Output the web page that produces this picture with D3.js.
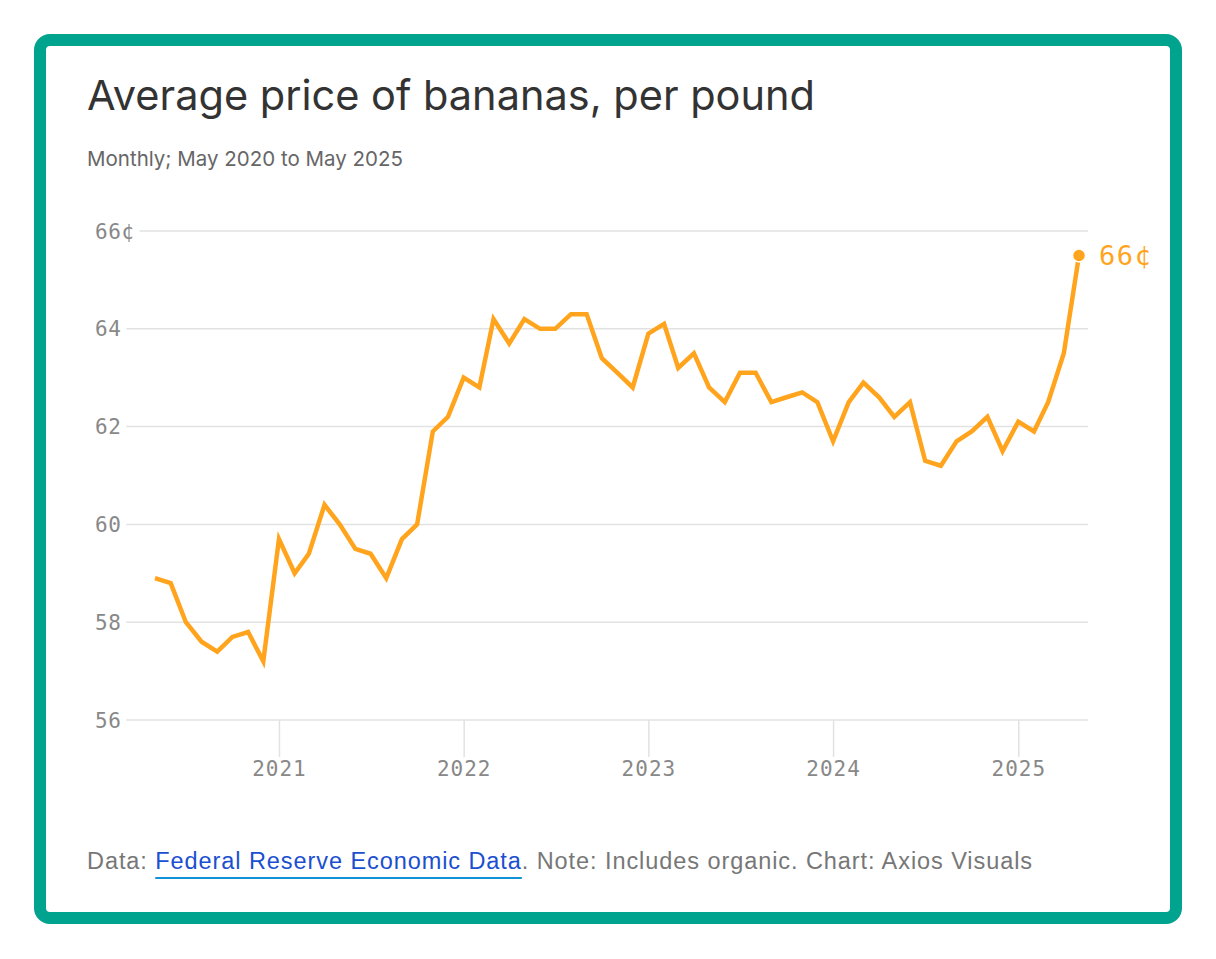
<!DOCTYPE html>
<html>
<head>
<meta charset="utf-8">
<script src="https://cdn.jsdelivr.net/npm/d3@7"></script>
<style>
  body { margin: 0; background: #fff; }
  svg { display: block; }
</style>
</head>
<body>
<svg id="chart" width="1216" height="959"></svg>
<script>
// Banana prices, cents per pound, monthly May 2020 - May 2025
var startMonth = "2020-05";
var prices = [
  58.9, 58.8, 58.0, 57.6, 57.4, 57.7, 57.8, 57.2,
  59.7, 59.0, 59.4, 60.4, 60.0, 59.5, 59.4, 58.9, 59.7, 60.0, 61.9, 62.2,
  63.0, 62.8, 64.2, 63.7, 64.2, 64.0, 64.0, 64.3, 64.3, 63.4, 63.1, 62.8,
  63.9, 64.1, 63.2, 63.5, 62.8, 62.5, 63.1, 63.1, 62.5, 62.6, 62.7, 62.5,
  61.7, 62.5, 62.9, 62.6, 62.2, 62.5, 61.3, 61.2, 61.7, 61.9, 62.2, 61.5,
  62.1, 61.9, 62.5, 63.5, 65.5
];
var yTicks = [56, 58, 60, 62, 64, 66];
var xTickYears = [2021, 2022, 2023, 2024, 2025];

var parseMonth = d3.timeParse("%Y-%m");
var start = parseMonth(startMonth);
var data = prices.map(function(v, i) {
  return { date: d3.timeMonth.offset(start, i), value: v };
});

var svg = d3.select("#chart");
var mono = "'DejaVu Sans Mono', monospace";
var orange = "#ffa41c";

// frame
svg.append("rect")
    .attr("x", 40).attr("y", 40)
    .attr("width", 1136).attr("height", 878)
    .attr("rx", 10)
    .attr("fill", "#fff")
    .attr("stroke", "#00a38d")
    .attr("stroke-width", 12);

// title + subtitle
svg.append("text")
    .attr("x", 87).attr("y", 110)
    .style("font-family", "Inter, 'Noto Sans', sans-serif")
    .style("font-size", "41.5px")
    .style("fill", "#333")
    .text("Average price of bananas, per pound");

svg.append("text")
    .attr("x", 87).attr("y", 166)
    .style("font-family", "Inter, 'Noto Sans', sans-serif")
    .style("font-size", "20.5px")
    .style("fill", "#666")
    .text("Monthly; May 2020 to May 2025");

var x = d3.scaleTime()
    .domain(d3.extent(data, function(d) { return d.date; }))
    .range([155, 1079]);

var y = d3.scaleLinear()
    .domain([56, 66])
    .range([720, 231]);

// y grid + labels
var yg = svg.append("g").attr("class", "y-grid");
yTicks.forEach(function(t, i) {
  var label = yg.append("text")
      .attr("x", 95).attr("y", y(t))
      .attr("dy", "0.36em")
      .style("font-family", mono)
      .style("font-size", "21px")
      .style("letter-spacing", "0.5px")
      .style("fill", "#888")
      .text(i == yTicks.length - 1 ? t + "¢" : t);
  var w = label.node().getComputedTextLength();
  yg.append("line")
      .attr("x1", 95 + w + 5).attr("x2", 1088)
      .attr("y1", y(t)).attr("y2", y(t))
      .attr("stroke", "#e2e2e2")
      .attr("stroke-width", 1.5);
});

// x axis ticks
var xAxis = d3.axisBottom(x)
    .tickValues(xTickYears.map(function(yr) { return new Date(yr, 0, 1); }))
    .tickFormat(d3.timeFormat("%Y"))
    .tickSize(37)
    .tickPadding(4);

var xg = svg.append("g")
    .attr("transform", "translate(0," + y(56) + ")")
    .call(xAxis);
xg.select(".domain").remove();
xg.selectAll(".tick line").attr("stroke", "#e2e2e2").attr("stroke-width", 1.5);
xg.selectAll(".tick text")
    .style("font-family", mono)
    .style("font-size", "21px")
    .style("letter-spacing", "1px")
    .style("fill", "#888");

// the line
var line = d3.line()
    .x(function(d) { return x(d.date); })
    .y(function(d) { return y(d.value); });

svg.append("path")
    .datum(data)
    .attr("d", line)
    .attr("fill", "none")
    .attr("stroke", orange)
    .attr("stroke-width", 4.5)
    .attr("stroke-linejoin", "miter")
    .attr("stroke-linecap", "butt");

// end point + label
var last = data[data.length - 1];
svg.append("circle")
    .attr("cx", x(last.date)).attr("cy", y(last.value))
    .attr("r", 6.5)
    .attr("fill", orange)
    .attr("stroke", "#fff")
    .attr("stroke-width", 1.5);

svg.append("text")
    .attr("x", x(last.date) + 20).attr("y", y(last.value))
    .attr("dy", "0.36em")
    .style("font-family", mono)
    .style("font-size", "27px")
    .style("letter-spacing", "1.5px")
    .style("fill", orange)
    .text(Math.round(last.value) + "¢");

// footer
var foot = svg.append("text")
    .attr("x", 87).attr("y", 869)
    .style("font-family", "'Liberation Sans', Arial, sans-serif")
    .style("font-size", "23.5px")
    .style("fill", "#777");
foot.append("tspan").text("Data: ");
foot.append("tspan").style("fill", "#1a4fd0").text("Federal Reserve Economic Data");
foot.append("tspan").text(". Note: Includes organic. Chart: Axios Visuals");

// stretch the footer a touch so it spans the same width as the reference
var fw = foot.node().getComputedTextLength();
foot.style("letter-spacing", ((946 - fw) / 81) + "px");

// underline for the link
var linkStart = foot.node().getStartPositionOfChar(6).x;
var linkEnd = foot.node().getEndPositionOfChar(34).x;
svg.append("line")
    .attr("x1", linkStart).attr("x2", linkEnd)
    .attr("y1", 878).attr("y2", 878)
    .attr("stroke", "#1191d6")
    .attr("stroke-width", 2);
</script>
</body>
</html>
